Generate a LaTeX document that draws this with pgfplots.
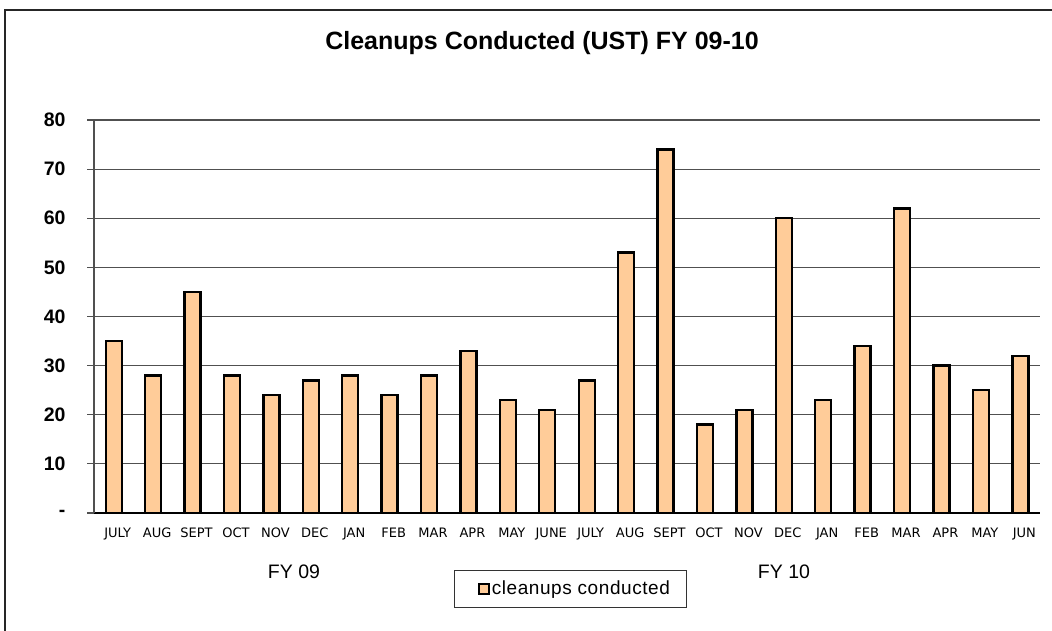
\documentclass[border=0pt]{standalone}
\usepackage{pgfplots}
\pgfplotsset{compat=1.18}
\usepackage{fontspec}
\setmainfont{Liberation Sans}
\newfontfamily\dejavu{DejaVu Sans}
\newfontfamily\legendfont[LetterSpace=3]{Liberation Sans}
\definecolor{barfill}{HTML}{FFCC99}
\definecolor{gridc}{HTML}{505050}
\pgfplotstableread{
x y
0 35
1 28
2 45
3 28
4 24
5 27
6 28
7 24
8 28
9 33
10 23
11 21
12 27
13 53
14 74
15 18
16 21
17 60
18 23
19 34
20 62
21 30
22 25
23 32
}\datatable
\begin{document}
\begin{tikzpicture}[x=1pt,y=1pt]
\begin{axis}[
  at={(94pt,117pt)}, anchor=south west,
  scale only axis, width=946pt, height=393pt,
  xmin=-0.5, xmax=23.5, ymin=0, ymax=80,
  ybar, bar width=16pt,
  axis x line*=bottom, axis y line*=left,
  x axis line style={-, draw=black, line width=1.6pt},
  y axis line style={-, draw=gridc, line width=1.2pt},
  xtick={0,...,23},
  xticklabels={JULY,AUG,SEPT,OCT,NOV,DEC,JAN,FEB,MAR,APR,MAY,JUNE,JULY,AUG,SEPT,OCT,NOV,DEC,JAN,FEB,MAR,APR,MAY,JUN},
  xtick style={draw=none},
  x tick label style={font=\dejavu\fontsize{13}{15}\selectfont, text=black, yshift=-4pt, xshift=4pt},
  ytick={0,10,...,80},
  yticklabels={-,10,20,30,40,50,60,70,80},
  y tick label style={font=\fontsize{19.5}{22}\selectfont\bfseries, xshift=-18pt},
  tick align=outside, major tick length=7pt,
  ytick style={draw=gridc, line width=1.2pt},
  ymajorgrids, grid style={draw=gridc, line width=1.2pt},
  legend style={at={(0.504,-0.193)}, anchor=center, draw=black!80, line width=1pt,
    font=\legendfont\fontsize{19}{22}\selectfont, inner xsep=15pt, inner ysep=9pt},
  legend image code/.code={\path (-8pt,0pt); \draw[fill=barfill, draw=black, line width=2pt] (0pt,-5pt) rectangle (10pt,5pt);},
]
\addplot[fill=barfill, draw=black, line width=2.4pt] table[x=x,y=y]{\datatable};
\addlegendentry{cleanups conducted}
\end{axis}
\node[font=\fontsize{25}{29}\selectfont\bfseries] at (542,587) {Cleanups Conducted (UST) FY 09-10};
\node[font=\fontsize{19.5}{23}\selectfont] at (294,58) {FY 09};
\node[font=\fontsize{19.5}{23}\selectfont] at (784,58) {FY 10};
\draw[line width=2pt, black!85] (5,-5) -- (5,620) -- (1060,620);
\pgfresetboundingbox
\useasboundingbox (0,0) rectangle (1052,630);
\end{tikzpicture}
\end{document}
